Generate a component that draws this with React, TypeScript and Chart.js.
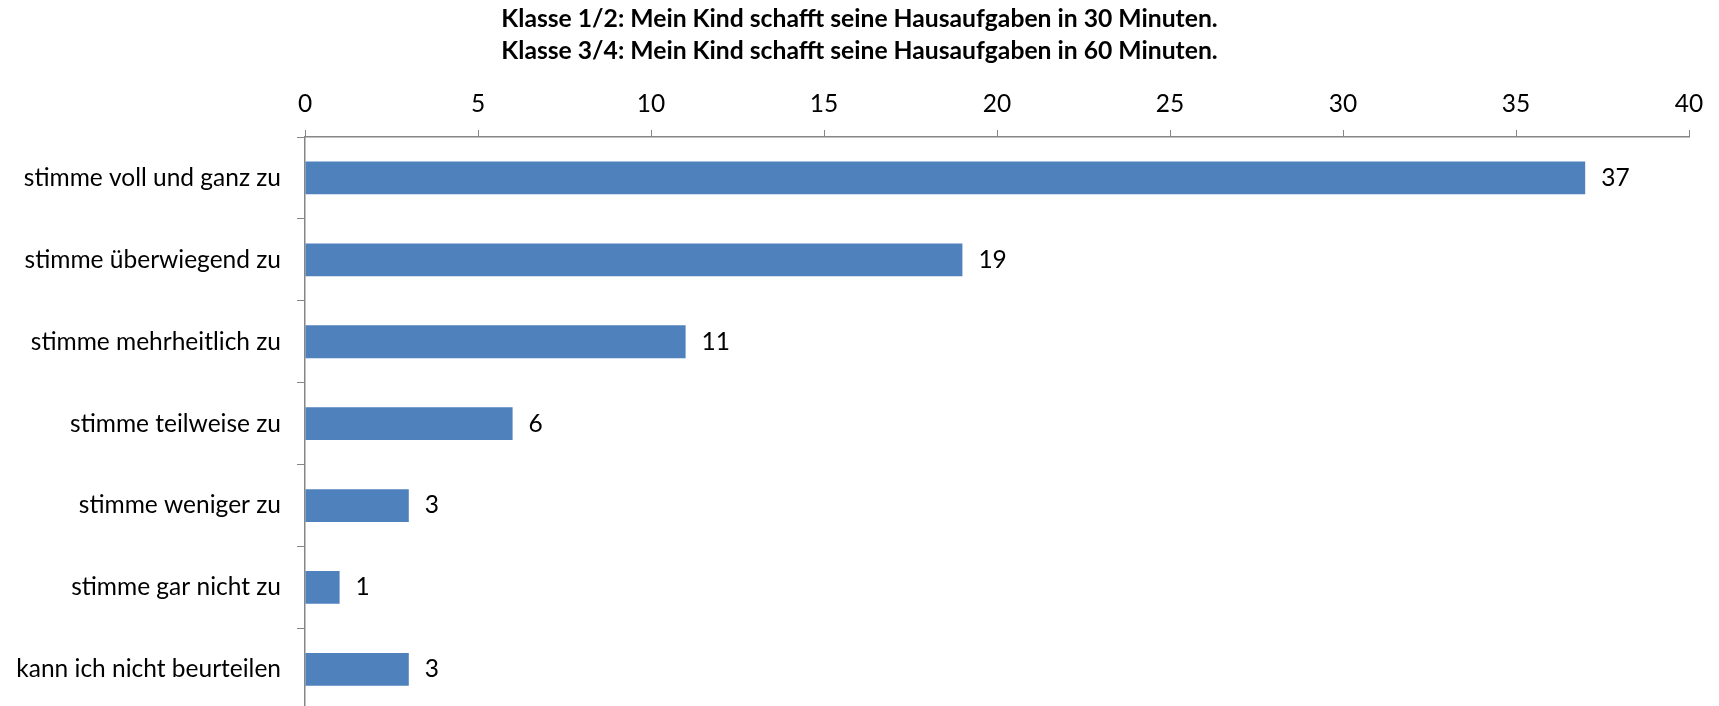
import React, { useEffect, useRef } from "react";
import { Chart, registerables } from "chart.js";

Chart.register(...registerables);

const categories = [
  "stimme voll und ganz zu",
  "stimme überwiegend zu",
  "stimme mehrheitlich zu",
  "stimme teilweise zu",
  "stimme weniger zu",
  "stimme gar nicht zu",
  "kann ich nicht beurteilen",
];
const values = [37, 19, 11, 6, 3, 1, 3];
const titleLines = [
  "Klasse 1/2: Mein Kind schafft seine Hausaufgaben in 30 Minuten.",
  "Klasse 3/4: Mein Kind schafft seine Hausaufgaben in 60 Minuten.",
];
const xMin = 0;
const xMax = 40;
const xStep = 5;

const FONT = "Lato, 'Open Sans', 'DejaVu Sans', sans-serif";
const AXIS_COLOR = "#868686";
const BAR_COLOR = "#4F81BD";
const LABEL_SIZE = 24.5;
const TITLE_SIZE = 24.7;

const valueLabels = {
  id: "valueLabels",
  afterDatasetsDraw(chart: any) {
    const ctx = chart.ctx;
    const meta = chart.getDatasetMeta(0);
    ctx.save();
    ctx.font = `${LABEL_SIZE}px ${FONT}`;
    ctx.fillStyle = "#000";
    ctx.textAlign = "left";
    ctx.textBaseline = "middle";
    meta.data.forEach((bar: any, i: number) => {
      ctx.fillText(String(values[i]), bar.x + 16, bar.y);
    });
    ctx.restore();
  },
};

const twoLineTitle = {
  id: "twoLineTitle",
  afterDraw(chart: any) {
    const ctx = chart.ctx;
    ctx.save();
    ctx.font = `bold ${TITLE_SIZE}px ${FONT}`;
    ctx.fillStyle = "#000";
    ctx.textAlign = "center";
    ctx.textBaseline = "middle";
    const cx = chart.width / 2;
    titleLines.forEach((line, i) => {
      ctx.fillText(line, cx, 19.5 + i * 32);
    });
    ctx.restore();
  },
};

export default function App() {
  const ref = useRef<HTMLCanvasElement>(null);
  useEffect(() => {
    if (!ref.current) return;
    const chart = new Chart(ref.current, {
      type: "bar",
      data: {
        labels: categories,
        datasets: [
          {
            data: values,
            backgroundColor: BAR_COLOR,
            barPercentage: 0.4,
            categoryPercentage: 1,
          },
        ],
      },
      options: {
        indexAxis: "y",
        responsive: false,
        maintainAspectRatio: false,
        animation: false,
        devicePixelRatio: 1,
        layout: { padding: { left: 0, right: 30, top: 73, bottom: 10 } },
        plugins: {
          legend: { display: false },
          tooltip: { enabled: false },
          title: { display: false },
        },
        scales: {
          x: {
            type: "linear",
            position: "top",
            min: xMin,
            max: xMax,
            ticks: {
              stepSize: xStep,
              color: "#000",
              font: { family: FONT, size: LABEL_SIZE },
              padding: 11,
            },
            grid: {
              display: true,
              drawOnChartArea: false,
              drawTicks: true,
              tickLength: 7,
              color: AXIS_COLOR,
            },
            border: { display: true, color: AXIS_COLOR, width: 1.5 },
            afterFit(scale: any) {
              scale.height = 137 - 73;
            },
          },
          y: {
            type: "category",
            ticks: {
              color: "#000",
              font: { family: FONT, size: LABEL_SIZE },
              padding: 16,
            },
            grid: {
              display: true,
              drawOnChartArea: false,
              drawTicks: true,
              tickLength: 8,
              offset: true,
              color: AXIS_COLOR,
            },
            border: { display: true, color: AXIS_COLOR, width: 1.5 },
            afterFit(scale: any) {
              scale.width = 305;
            },
          },
        },
      },
      plugins: [valueLabels, twoLineTitle],
    });
    return () => chart.destroy();
  }, []);

  return (
    <div
      style={{
        position: "fixed",
        left: 0,
        top: 0,
        width: 1719,
        height: 706,
        overflow: "hidden",
        background: "#fff",
      }}
    >
      <canvas ref={ref} width={1719} height={741} style={{ display: "block" }} />
    </div>
  );
}
